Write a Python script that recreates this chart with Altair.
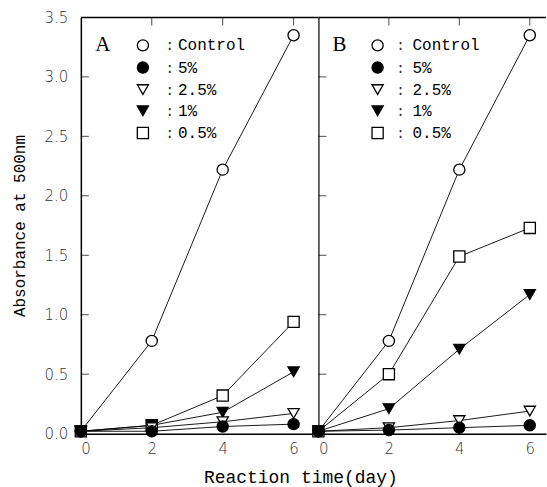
import altair as alt
import pandas as pd

# ---------------- data ----------------
days = [0, 2, 4, 6]
series_order = ["Control", "0.5%", "1%", "2.5%", "5%"]     # drawing order
legend_order = ["Control", "5%", "2.5%", "1%", "0.5%"]     # legend order
shapes = ["circle", "circle", "triangle-down", "triangle-down", "square"]
fills = ["white", "black", "white", "black", "white"]

a_control = [0.02, 0.78, 2.22, 3.35]
a_5 = [0.02, 0.02, 0.06, 0.08]
a_25 = [0.02, 0.05, 0.10, 0.17]
a_1 = [0.02, 0.07, 0.18, 0.52]
a_05 = [0.02, 0.07, 0.32, 0.94]

b_control = [0.02, 0.78, 2.22, 3.35]
b_5 = [0.02, 0.03, 0.05, 0.07]
b_25 = [0.02, 0.05, 0.11, 0.19]
b_1 = [0.02, 0.21, 0.71, 1.17]
b_05 = [0.02, 0.50, 1.49, 1.73]

y_tick_values = [0, 0.5, 1.0, 1.5, 2.0, 2.5, 3.0, 3.5]
inner_y_ticks = [0.5, 1.0, 1.5, 2.0, 2.5, 3.0]
x_tick_values = [0, 2, 4, 6]

# ---------------- layout ----------------
Y_MAX = 3.5
PLOT_H = 417
LEG_ROWS_Y = [3.265, 3.078, 2.893, 2.715, 2.528]


def make_df(values):
    rows = []
    for s in series_order:
        for d, v in zip(days, values[s]):
            rows.append({"series": s, "day": d, "value": v})
    return pd.DataFrame(rows)


df_a = make_df({"Control": a_control, "5%": a_5, "2.5%": a_25, "1%": a_1, "0.5%": a_05})
df_b = make_df({"Control": b_control, "5%": b_5, "2.5%": b_25, "1%": b_1, "0.5%": b_05})

leg_df = pd.DataFrame({"series": legend_order, "ly": LEG_ROWS_Y})

shape_scale = alt.Scale(domain=legend_order, range=shapes)
fill_scale = alt.Scale(domain=legend_order, range=fills)

LABEL_FONT = "DejaVu Sans"
MONO = "Liberation Mono"


def panel(df, letter, xmax, width, leg_x, show_y_labels):
    xs = alt.Scale(domain=[0, xmax], nice=False, zero=False)
    ys = alt.Scale(domain=[0, Y_MAX], nice=False)
    x_axis = alt.Axis(values=x_tick_values, ticks=False, domainColor="black",
                      domainWidth=1.5, labelFont=LABEL_FONT, labelFontSize=15,
                      labelColor="#333", labelPadding=8, title=None, grid=False,
                      format="d", labelFontWeight=300)
    if show_y_labels:
        y_axis = alt.Axis(values=y_tick_values, ticks=False, domainColor="black",
                          domainWidth=1.5, labelFont=LABEL_FONT, labelFontSize=15,
                          labelColor="#333", labelPadding=13, grid=False,
                          format=".1f", title="Absorbance at 500nm",
                          titleFont=MONO, titleFontSize=16, titleFontWeight="normal",
                          titlePadding=17, titleColor="black", labelFontWeight=300)
    else:
        y_axis = alt.Axis(values=y_tick_values, ticks=False, labels=False,
                          domainColor="black", domainWidth=1.2, grid=False, title=None)

    base = alt.Chart(df)
    lines = base.mark_line(color="black", strokeWidth=0.9).encode(
        x=alt.X("day:Q", scale=xs, axis=x_axis),
        y=alt.Y("value:Q", scale=ys, axis=y_axis),
        detail="series:N",
    )
    pts = base.mark_point(stroke="black", strokeWidth=1.3, size=125, opacity=1,
                          fillOpacity=1).encode(
        x="day:Q", y="value:Q",
        shape=alt.Shape("series:N", scale=shape_scale, legend=None),
        fill=alt.Fill("series:N", scale=fill_scale, legend=None),
    )
    top = alt.Chart(pd.DataFrame({"a": [0]})).mark_rule(color="black", strokeWidth=1.5).encode(
        x=alt.datum(0), x2=alt.datum(xmax), y=alt.datum(Y_MAX))
    yt = alt.Chart(pd.DataFrame({"v": inner_y_ticks})).mark_tick(
        orient="horizontal", size=8, thickness=1, xOffset=4, color="black").encode(
        x=alt.datum(0), y="v:Q")
    xt = alt.Chart(pd.DataFrame({"v": x_tick_values[1:]})).mark_tick(
        orient="vertical", size=8, thickness=1, yOffset=4, color="black").encode(
        x="v:Q", y=alt.datum(Y_MAX))

    leg_base = alt.Chart(leg_df)
    leg_pts = leg_base.mark_point(stroke="black", strokeWidth=1.3, size=125, opacity=1,
                                  fillOpacity=1).encode(
        x=alt.datum(leg_x[1]), y="ly:Q",
        shape=alt.Shape("series:N", scale=shape_scale, legend=None),
        fill=alt.Fill("series:N", scale=fill_scale, legend=None),
    )
    leg_colon = leg_base.mark_text(text=":", font=MONO, fontSize=15, color="#333").encode(
        x=alt.datum(leg_x[2]), y="ly:Q")
    leg_txt = leg_base.mark_text(align="left", font=MONO, fontSize=16, color="black").encode(
        x=alt.datum(leg_x[3]), y="ly:Q", text="series:N")
    leg_letter = alt.Chart(pd.DataFrame({"t": [letter]})).mark_text(
        font="Liberation Serif", fontSize=21, color="black").encode(
        x=alt.datum(leg_x[0]), y=alt.datum(LEG_ROWS_Y[0]), text="t:N")

    return alt.layer(top, yt, xt, lines, pts, leg_pts, leg_colon, leg_txt, leg_letter).properties(
        width=width, height=PLOT_H)


panel_a = panel(df_a, "A", 6.7, 238, [0.62, 1.75, 2.51, 2.74], True)
panel_b = panel(df_b, "B", 6.46, 228, [0.60, 1.68, 2.33, 2.67], False)

chart = alt.hconcat(panel_a, panel_b, spacing=0, bounds="flush").properties(
    title=alt.TitleParams("Reaction time(day)", orient="bottom", font=MONO,
                          fontSize=18, fontWeight="normal", color="black",
                          anchor="middle", dx=22, offset=12),
    padding={"left": 11, "top": 10, "right": 0, "bottom": 2},
).configure_view(stroke=None)

chart.save("out.html", embed_options={"renderer": "svg", "actions": False})
